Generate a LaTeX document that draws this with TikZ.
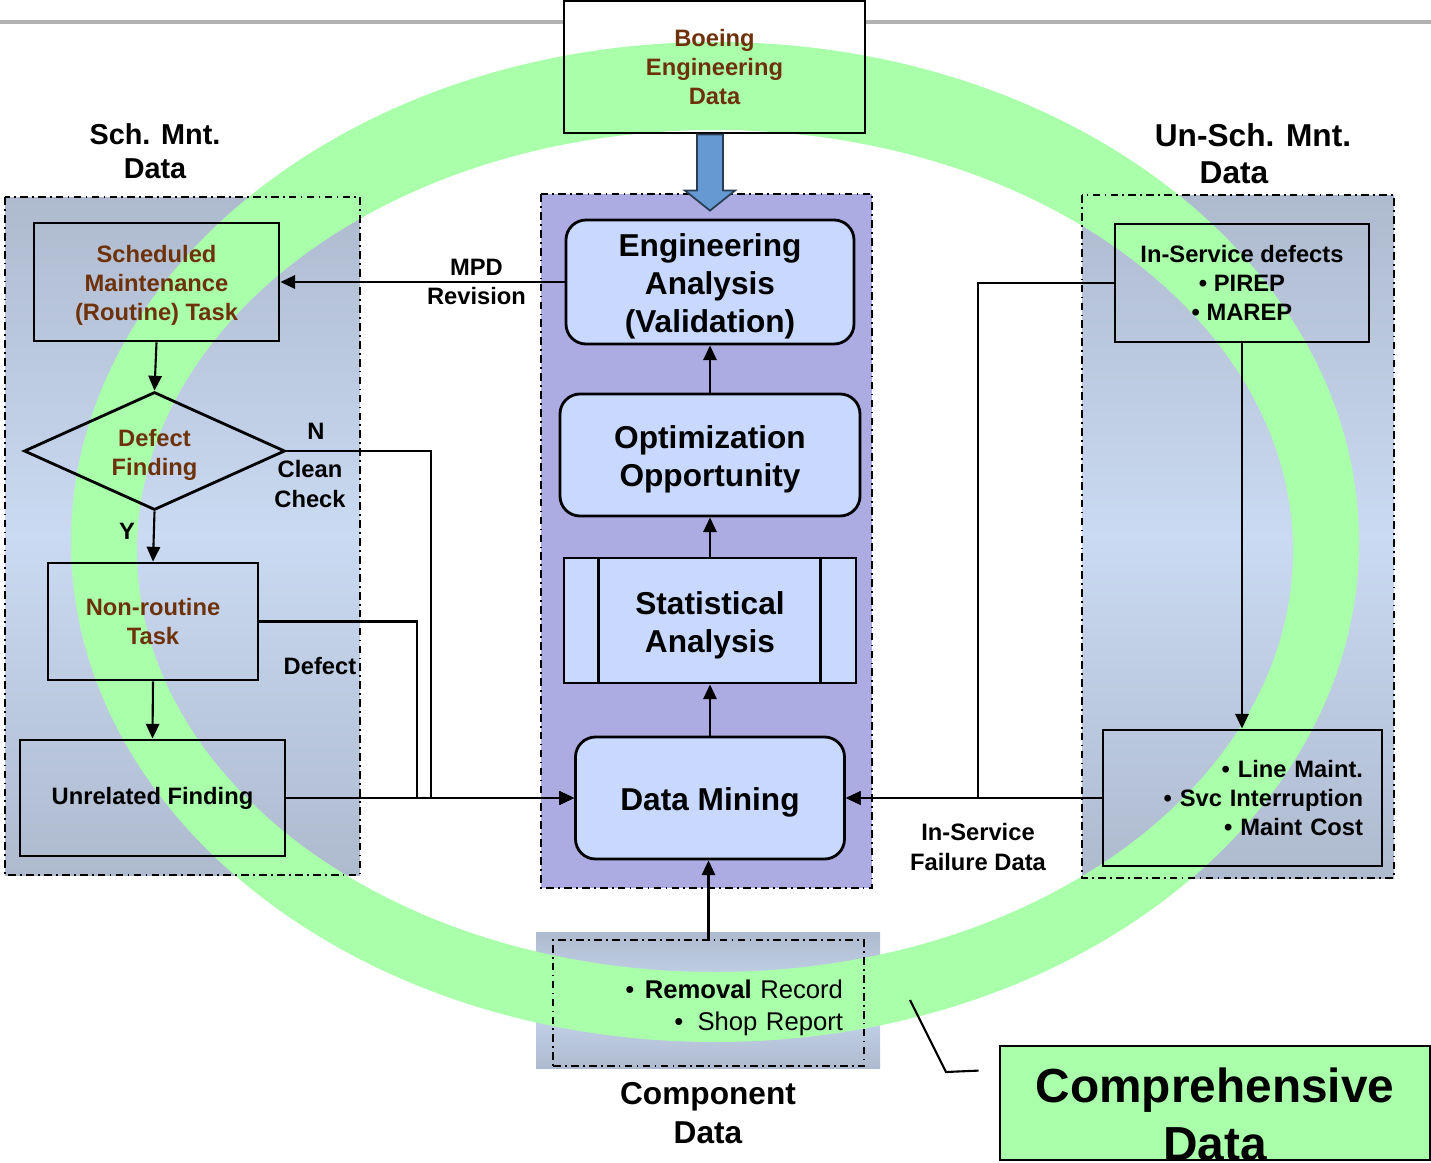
\documentclass[tikz,border=0pt]{standalone}
\usepackage{fontspec}
\setmainfont{Liberation Sans}
\usepackage{tikz}
\usetikzlibrary{arrows.meta,positioning,shapes.geometric,calc}

\definecolor{ringgreen}{RGB}{170,255,170}
\definecolor{taskbrown}{RGB}{110,50,10}
\definecolor{panelgrey}{RGB}{174,186,206}
\definecolor{panellight}{RGB}{202,218,242}
\definecolor{corepurple}{RGB}{172,172,226}
\definecolor{stageblue}{RGB}{200,216,255}
\definecolor{arrowblue}{RGB}{102,153,210}
\definecolor{linegrey}{RGB}{178,178,178}
\newcommand\strutup[1]{\rule{0pt}{#1}}

\begin{document}
\begin{tikzpicture}[>={Triangle[length=4.2pt,width=3.8pt]},
  panel/.style={top color=panelgrey,bottom color=panelgrey,middle color=panellight},
  dashbox/.style={draw,line width=0.6pt,dash pattern=on 2.2pt off 1.2pt on 0.5pt off 1.2pt},
  task/.style={draw,line width=0.8pt,inner sep=0pt,align=center,font=\fontsize{6.75}{8.3}\selectfont\bfseries},
  stage/.style={draw,line width=0.8pt,rounded corners=0.2cm,fill=stageblue,inner sep=0pt,align=center,font=\fontsize{9}{10.8}\selectfont\bfseries},
  note/.style={align=center,inner sep=0pt,font=\fontsize{6.75}{8.3}\selectfont\bfseries},
  hdr/.style={align=center,inner sep=0pt,font=\fontsize{8.2}{9.7}\selectfont\bfseries},
  conn/.style={line width=0.6pt}]
\useasboundingbox (0,0) rectangle (14.31,-11.63);

% panels
\shade[panel] (0.05,-1.97) rectangle (3.60,-8.75);
\shade[panel] (10.82,-1.95) rectangle (13.94,-8.78);
\fill[corepurple] (5.41,-1.94) rectangle (8.72,-8.88);
\shade[panel] (5.36,-9.32) rectangle (8.80,-10.68);

% comprehensive data ring
\fill[ringgreen,even odd rule] (7.15,-5.42) ellipse [x radius=6.44,y radius=5.00]
  (7.15,-5.51) ellipse [x radius=5.78,y radius=4.21];

\draw[dashbox] (0.05,-1.97) rectangle (3.60,-8.75);
\draw[dashbox] (10.82,-1.95) rectangle (13.94,-8.78);
\draw[dashbox] (5.41,-1.94) rectangle (8.72,-8.88);

% center column
\node[task,text=taskbrown,minimum width=3.01cm,minimum height=1.32cm] (boeing) at (7.145,-0.67) {Boeing\\Engineering\\Data};
\node[stage,minimum width=2.88cm,minimum height=1.24cm] (ea) at (7.10,-2.82) {\strutup{9pt}Engineering\\Analysis\\(Validation)};
\node[stage,minimum width=3.00cm,minimum height=1.22cm] (opt) at (7.10,-4.55) {\strutup{9pt}Optimization\\Opportunity};
\node[stage,sharp corners,minimum width=2.92cm,minimum height=1.25cm] (stat) at (7.10,-6.205) {\strutup{9pt}Statistical\\Analysis};
\draw[line width=0.8pt] ($(stat.north west)+(0.36,0)$) -- ($(stat.south west)+(0.36,0)$);
\draw[line width=0.8pt] ($(stat.north east)+(-0.37,0)$) -- ($(stat.south east)+(-0.37,0)$);
\node[stage,minimum width=2.69cm,minimum height=1.22cm] (dm) at (7.10,-7.98) {\strutup{9pt}Data Mining};

% scheduled maintenance
\node[hdr] (schlbl) at (1.55,-1.51) {Sch. Mnt.\\Data};
\node[task,text=taskbrown,minimum width=2.45cm,minimum height=1.18cm] (sm) at (1.565,-2.82) {\strutup{6.9pt}Scheduled\\Maintenance\\(Routine) Task};
\node[draw,diamond,aspect=2.2,line width=0.8pt,inner sep=0pt,minimum width=2.61cm,minimum height=1.18cm,text=taskbrown,align=center,font=\fontsize{6.75}{8.3}\selectfont\bfseries] (df) at (1.545,-4.51) {\strutup{6.9pt}Defect\\Finding};
\node[task,text=taskbrown,minimum width=2.10cm,minimum height=1.17cm] (nr) at (1.53,-6.215) {Non-routine\\Task};
\node[task,minimum width=2.65cm,minimum height=1.16cm] (uf) at (1.525,-7.98) {Unrelated Finding};
\node[note] (nlbl) at (3.16,-4.31) {N};
\node[note] (cclbl) at (3.10,-4.84) {Clean\\Check};
\node[note] (ylbl) at (1.27,-5.31) {Y};
\node[note] (deflbl) at (3.20,-6.66) {Defect};

% unscheduled maintenance
\node[hdr,font=\fontsize{9}{10.6}\selectfont\bfseries] (unschlbl) at (12.53,-1.54) {Un-Sch. Mnt.\\Data\kern10.8pt};
\node[task,minimum width=2.54cm,minimum height=1.18cm] (isd) at (12.42,-2.83) {In-Service defects\\• PIREP\\• MAREP};
\node[task,align=right,text width=2.41cm,inner xsep=0.19cm,minimum height=1.36cm] (lm) at (12.425,-7.98) {• Line Maint.\\• Svc Interruption\\• Maint Cost};
\node[note] (isflbl) at (9.78,-8.47) {In-Service\\Failure Data};

% component data
\node[dashbox,align=right,text width=2.69cm,inner xsep=0.21cm,inner ysep=0pt,minimum height=1.26cm,font=\fontsize{7.3}{9.1}\selectfont] (comp) at (7.085,-10.03) {\strutup{8.3pt}•\hspace{3pt}\textbf{Removal} Record\\•\hspace{4pt}Shop Report};
\node[hdr,font=\fontsize{9}{11.1}\selectfont\bfseries] (complbl) at (7.08,-11.13) {Component\\Data};

% comprehensive data callout
\node[draw,line width=0.8pt,fill=ringgreen,minimum width=4.30cm,minimum height=1.14cm] (cd) at (12.15,-11.03) {};
\node[align=center,inner sep=0pt,font=\fontsize{13.6}{16.5}\selectfont\bfseries] (cdtext) at (12.15,-11.14) {Comprehensive\\Data};
\coordinate (cdtip) at (9.10,-10.00);
\draw[conn] (cdtip) -- ++(0.36,-0.72) -- ($(cd.north west)+(-0.20,-0.26)$);

% block arrow
\coordinate (tip) at ($(ea.north)+(0,0.08)$);
\coordinate (shafttop) at (tip |- boeing.south);
\filldraw[fill=arrowblue,draw=black!60!arrowblue,line width=0.5pt]
  ($(shafttop)+(-0.13,0)$) -- ($(shafttop)+(0.13,0)$) -- ($(tip)+(0.13,0.20)$) -- ($(tip)+(0.25,0.20)$)
  -- (tip) -- ($(tip)+(-0.25,0.20)$) -- ($(tip)+(-0.13,0.20)$) -- cycle;

% connectors
\draw[->,conn] (dm.north) -- (stat.south);
\draw[->,conn] (stat.north) -- (opt.south);
\draw[->,conn] (opt.north) -- (ea.south);
\draw[->,conn] (ea.west) -- node[note,pos=0.31] {MPD\\Revision} (sm.east);
\draw[->,conn] (sm.south) -- (df.north);
\draw[->,conn] (df.south) -- (nr.north);
\draw[->,conn] (nr.south) -- (uf.north);
\draw[->,conn] (df.east) -- ++(1.45,0) |- (dm.west);
\draw[->,conn] (nr.east) -- ++(1.58,0) |- (dm.west);
\draw[->,conn] (uf.east) -- (dm.west);
\draw[->,conn] (isd.west) -- ++(-1.36,0) |- (dm.east);
\draw[->,conn] (isd.south) -- (isd.south |- lm.north);
\draw[->,conn] (lm.west) -- (dm.east);
\draw[->,conn] (comp.north) -- (comp.north |- dm.south);

% top rule
\coordinate (lineL) at (0,-0.22);
\coordinate (lineR) at (14.31,-0.22);
\draw[linegrey,line width=1.4pt] (lineL) -- (lineL -| boeing.west);
\draw[linegrey,line width=1.4pt] (lineR -| boeing.east) -- (lineR);
\end{tikzpicture}
\end{document}
